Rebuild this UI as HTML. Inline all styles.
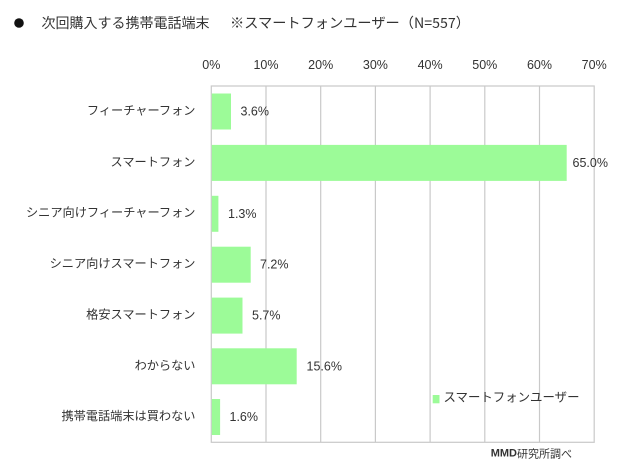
<!DOCTYPE html>
<html>
<head>
<meta charset="utf-8">
<style>
html,body{margin:0;padding:0;background:#fff;}
svg{display:block;}
text{font-family:"Liberation Sans","Noto Sans CJK JP",sans-serif;fill:#333;}
.cjk{font-family:"Noto Sans CJK JP","Liberation Sans",sans-serif;}
</style>
</head>
<body>
<svg width="640" height="468" viewBox="0 0 640 468" xmlns="http://www.w3.org/2000/svg">
<rect width="640" height="468" fill="#fff"/>
<!-- title -->
<circle cx="19" cy="23" r="4.8" fill="#111"/>
<text class="cjk" x="41.5" y="23" font-size="14" dominant-baseline="central" fill="#222">次回購入する携帯電話端末</text>
<text class="cjk" x="230" y="23" font-size="14" dominant-baseline="central" fill="#222" textLength="240" lengthAdjust="spacingAndGlyphs">※スマートフォンユーザー（N=557）</text>

<!-- tick labels -->
<g font-size="12.5" text-anchor="middle">
<text x="211.3" y="65" dominant-baseline="central">0%</text>
<text x="266" y="65" dominant-baseline="central">10%</text>
<text x="320.7" y="65" dominant-baseline="central">20%</text>
<text x="375.4" y="65" dominant-baseline="central">30%</text>
<text x="430.1" y="65" dominant-baseline="central">40%</text>
<text x="484.8" y="65" dominant-baseline="central">50%</text>
<text x="539.5" y="65" dominant-baseline="central">60%</text>
<text x="594.2" y="65" dominant-baseline="central">70%</text>
</g>

<!-- grid -->
<g stroke="#c9c9c9" stroke-width="1.2">
<line x1="266" y1="86" x2="266" y2="442.3"/>
<line x1="320.7" y1="86" x2="320.7" y2="442.3"/>
<line x1="375.4" y1="86" x2="375.4" y2="442.3"/>
<line x1="430.1" y1="86" x2="430.1" y2="442.3"/>
<line x1="484.8" y1="86" x2="484.8" y2="442.3"/>
<line x1="539.5" y1="86" x2="539.5" y2="442.3"/>
<rect x="211.3" y="86" width="382.9" height="356.3" fill="none"/>
</g>

<!-- bars -->
<g fill="#9cfb98">
<rect x="211.8" y="93.5" width="19.2" height="36"/>
<rect x="211.8" y="144.9" width="354.9" height="36"/>
<rect x="211.8" y="195.8" width="6.6" height="36"/>
<rect x="211.8" y="246.7" width="38.9" height="36"/>
<rect x="211.8" y="297.6" width="30.7" height="36"/>
<rect x="211.8" y="348.3" width="84.9" height="36"/>
<rect x="211.8" y="399" width="8.3" height="36"/>
</g>

<!-- value labels -->
<g font-size="12.5">
<text x="240.5" y="111.5" dominant-baseline="central">3.6%</text>
<text x="572.5" y="162.9" dominant-baseline="central">65.0%</text>
<text x="228" y="213.8" dominant-baseline="central">1.3%</text>
<text x="260" y="264.7" dominant-baseline="central">7.2%</text>
<text x="252" y="315.6" dominant-baseline="central">5.7%</text>
<text x="306.5" y="366.3" dominant-baseline="central">15.6%</text>
<text x="229.5" y="417" dominant-baseline="central">1.6%</text>
</g>

<!-- category labels -->
<g class="cjk" font-size="12.2" text-anchor="end">
<text x="195.5" y="110.5" dominant-baseline="central">フィーチャーフォン</text>
<text x="195.5" y="161.9" dominant-baseline="central">スマートフォン</text>
<text x="195.5" y="212.5" dominant-baseline="central">シニア向けフィーチャーフォン</text>
<text x="195.5" y="263.5" dominant-baseline="central">シニア向けスマートフォン</text>
<text x="195.5" y="314.5" dominant-baseline="central">格安スマートフォン</text>
<text x="195.5" y="365.3" dominant-baseline="central">わからない</text>
<text x="195.5" y="416" dominant-baseline="central">携帯電話端末は買わない</text>
</g>

<!-- legend -->
<rect x="432.7" y="395" width="6.8" height="8.3" fill="#9cfb98"/>
<text class="cjk" x="443.5" y="396.5" font-size="12.4" dominant-baseline="central" textLength="136" lengthAdjust="spacingAndGlyphs">スマートフォンユーザー</text>

<!-- source -->
<text x="490.7" y="453.5" font-size="11" dominant-baseline="central" fill="#111"><tspan font-weight="bold">MMD</tspan><tspan class="cjk" font-family="Noto Sans CJK JP, sans-serif">研究所調べ</tspan></text>
</svg>
</body>
</html>
